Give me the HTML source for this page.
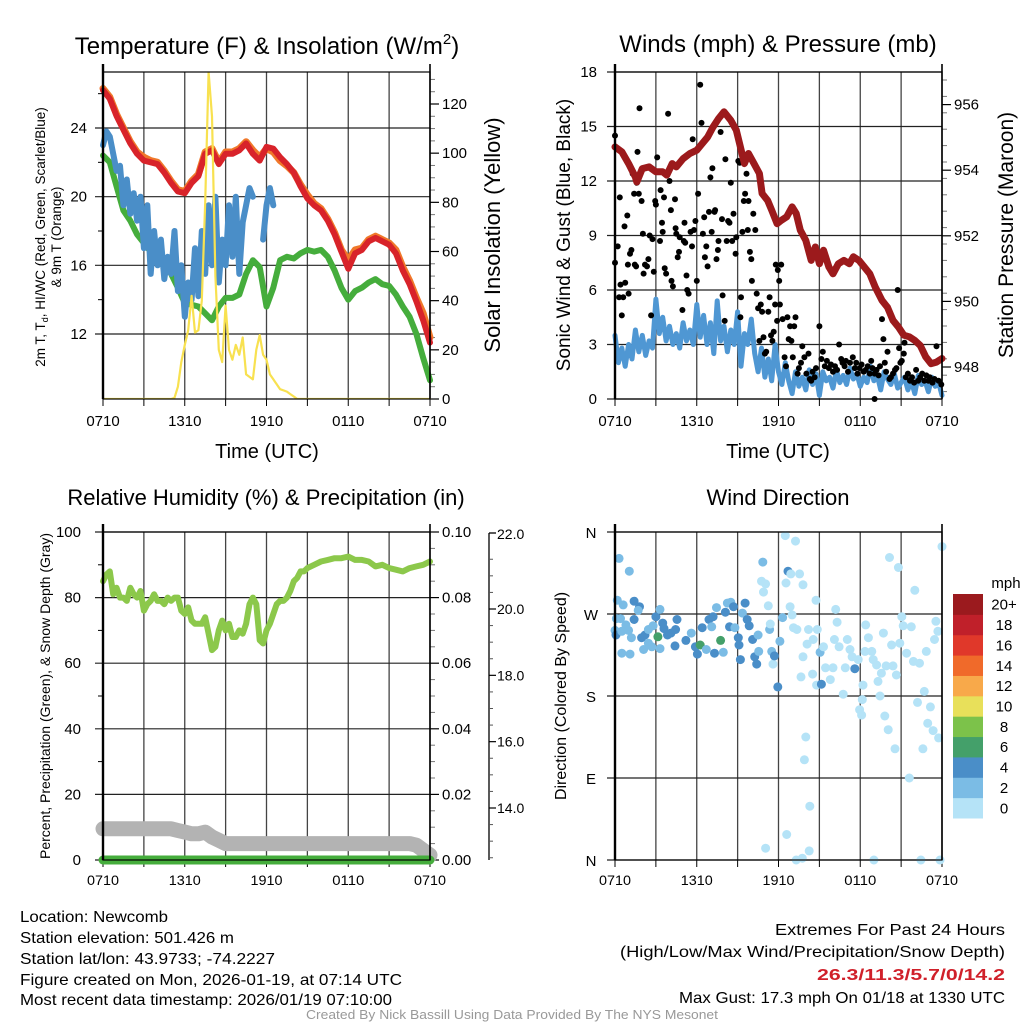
<!DOCTYPE html>
<html><head><meta charset="utf-8"><style>
html,body{margin:0;padding:0;background:#fff;}
svg{display:block;font-family:"Liberation Sans",sans-serif;}
</style></head><body>
<svg id="fig" width="1024" height="1024" viewBox="0 0 1024 1024">
<g id="p1"></g>
<g id="p2"></g>
<g id="p3"></g>
<g id="p4"></g>
<g id="footer">
<text x="20" y="922" font-size="16" textLength="148" lengthAdjust="spacingAndGlyphs">Location: Newcomb</text>
<text x="20" y="943" font-size="16" textLength="214" lengthAdjust="spacingAndGlyphs">Station elevation: 501.426 m</text>
<text x="20" y="964" font-size="16" textLength="255" lengthAdjust="spacingAndGlyphs">Station lat/lon: 43.9733; -74.2227</text>
<text x="20" y="985" font-size="16" textLength="382" lengthAdjust="spacingAndGlyphs">Figure created on Mon, 2026-01-19, at 07:14 UTC</text>
<text x="20" y="1005" font-size="16" textLength="372" lengthAdjust="spacingAndGlyphs">Most recent data timestamp: 2026/01/19 07:10:00</text>
<text x="1005" y="935" font-size="16" text-anchor="end" textLength="230" lengthAdjust="spacingAndGlyphs">Extremes For Past 24 Hours</text>
<text x="1005" y="957" font-size="16" text-anchor="end" textLength="385" lengthAdjust="spacingAndGlyphs">(High/Low/Max Wind/Precipitation/Snow Depth)</text>
<text x="1005" y="980" font-size="16" font-weight="bold" fill="#d0202a" text-anchor="end" textLength="188" lengthAdjust="spacingAndGlyphs">26.3/11.3/5.7/0/14.2</text>
<text x="1005" y="1003" font-size="16" text-anchor="end" textLength="326" lengthAdjust="spacingAndGlyphs">Max Gust: 17.3 mph On 01/18 at 1330 UTC</text>
<text x="512" y="1019" font-size="13" fill="#999" text-anchor="middle" textLength="412" lengthAdjust="spacingAndGlyphs">Created By Nick Bassill Using Data Provided By The NYS Mesonet</text>
</g>
</svg>
<script>
// ---------- DATA ----------
const timeLabels = ["0710","1310","1910","0110","0710"];
const tempTicks = [12,16,20,24];
const solarTicks = [0,20,40,60,80,100,120];
const windTicks = [0,3,6,9,12,15,18];
const pressTicks = [948,950,952,954,956];
const rhTicks = [0,20,40,60,80,100];
const precipTicks = ["0.00","0.02","0.04","0.06","0.08","0.10"];
const snowTicks = [14,16,18,20];
const dirLabels = ["N","E","S","W","N"];
const speedBinLabels = ["0","2","4","6","8","10","12","14","16","18","20+"];
const speedBinColors = ["#b5e3f7","#7bbce5","#4a8ec8","#44a06a","#7cc24a","#e8e05a","#f8a94a","#f06a2a","#e0382a","#c0202a","#9b1a1e"];

const tempRed = [26.2,25.7,24.7,23.9,23.1,22.5,22.1,22.0,21.9,21.4,20.8,20.3,20.2,20.8,21.2,22.5,22.7,21.9,22.5,22.5,22.7,23.1,22.5,22.1,22.9,22.8,22.3,21.9,21.4,20.6,19.9,19.5,19.2,18.6,17.8,16.8,15.8,16.7,16.9,17.4,17.6,17.4,17.2,16.7,15.7,14.9,13.9,12.8,11.5];
const tempOrange = [26.3,25.8,24.8,24.0,23.2,22.6,22.3,22.1,22.0,21.5,20.9,20.4,20.3,20.9,21.3,22.6,22.8,22.0,22.6,22.6,22.8,23.2,22.7,22.3,22.8,22.6,22.1,21.8,21.4,20.7,20.1,19.6,19.3,18.7,17.9,16.9,16.3,16.9,17.0,17.5,17.7,17.5,17.3,16.9,15.9,15.1,14.1,13.2,11.8];
const dewGreen = [22.4,22.0,20.6,19.2,18.6,17.8,17.3,16.8,16.6,16.3,15.5,14.7,13.8,13.7,13.6,13.2,12.8,13.6,14.1,14.1,14.3,15.5,16.3,15.9,13.6,14.7,16.3,16.5,16.4,16.7,16.9,16.8,16.9,16.5,15.7,14.7,14.0,14.5,14.7,15.0,15.2,14.9,14.8,14.3,13.6,13.0,12.0,10.6,9.3];
const chillBlue = [23.0,23.8,23.5,22.5,21.5,21.8,19.5,21.0,19.0,20.2,18.6,20.0,17.0,19.5,15.5,18.0,16.0,17.5,15.2,16.5,15.5,18.0,14.5,16.0,13.0,15.0,14.0,17.0,14.2,18.0,15.5,19.5,16.0,20.0,15.0,17.5,16.0,19.5,16.5,20.0,15.5,18.5,19.5,20.5,20.0,null,null,17.5,19.5,20.5,19.5];
const solarHours = [0,5,5.25,5.5,5.75,6,6.25,6.5,6.75,7,7.25,7.5,7.75,8,8.25,8.5,8.75,9,9.25,9.5,9.75,10,10.25,10.5,10.75,11,11.25,11.5,11.75,12,12.25,12.5,12.75,13,13.25,13.5,13.75,14,14.25,24];
const solarVals = [0,0,0.5,5,15,22,28,42,27,28,40,80,133,115,50,20,15,38,20,16,22,18,25,10,9,8,20,26,18,16,10,8,6,4,3.5,3,2,1,0,0];

const windSpeed = [3.5,2.0,2.8,1.8,3.0,2.2,3.8,2.6,3.5,2.4,3.2,2.8,5.5,3.6,4.5,3.2,4.0,3.0,3.6,2.8,4.2,3.2,3.8,3.0,5.2,3.4,4.6,3.0,4.2,2.5,5.4,3.2,4.0,2.6,3.8,3.0,4.8,1.8,3.6,3.0,4.4,2.5,1.5,2.8,1.2,2.2,1.0,3.0,1.5,0.8,2.0,1.0,0.3,1.5,0.7,1.2,0.5,1.6,0.8,1.4,0.2,1.5,1.0,1.2,0.6,1.6,0.9,1.3,0.8,1.7,1.1,1.4,0.7,1.2,0.9,1.8,1.0,1.3,0.5,1.5,1.1,0.8,1.4,0.6,0.9,1.2,0.5,1.0,0.3,1.3,0.8,1.0,0.4,1.2,0.7,0.9,0.2];
const gustHours = [0,0,0.2,0.3,0.35,0.4,0.5,0.6,0.7,0.75,0.9,0.95,1.0,1.1,1.2,1.3,1.4,1.45,1.55,1.6,1.65,1.75,1.8,1.95,2.05,2.1,2.2,2.35,2.45,2.55,2.65,2.75,2.85,2.95,3.0,3.1,3.3,3.35,3.45,3.5,3.6,3.65,3.75,3.9,4.0,4.1,4.15,4.25,4.4,4.45,4.5,4.6,4.7,4.75,4.95,5.05,5.1,5.15,5.25,5.3,5.4,5.55,5.65,5.7,5.8,5.9,6.0,6.1,6.25,6.35,6.45,6.55,6.6,6.7,6.8,6.9,7.0,7.1,7.15,7.3,7.35,7.45,7.55,7.6,7.75,7.85,7.9,8.05,8.1,8.2,8.3,8.4,8.5,8.6,8.7,8.85,8.9,9.05,9.15,9.2,9.25,9.35,9.45,9.55,9.65,9.75,9.8,9.9,10.0,10.05,10.15,10.3,10.4,10.5,10.6,10.7,10.8,10.9,11.0,11.1,11.25,11.35,11.45,11.55,11.65,11.75,11.8,11.9,11.95,12.05,12.1,12.2,12.3,12.45,12.55,12.65,12.75,12.85,12.95,13.05,13.15,13.25,13.4,13.5,13.65,13.75,13.9,14.05,14.2,14.3,14.4,14.5,14.65,14.75,15.0,15.15,15.25,15.4,15.55,15.7,15.85,16.0,16.15,16.3,16.45,16.6,16.7,16.85,16.95,17.1,17.25,17.45,17.6,17.7,17.8,17.95,18.1,18.25,18.4,18.55,18.7,18.8,18.9,19.05,19.2,19.35,19.45,19.6,19.7,19.8,19.9,20.0,20.15,20.25,20.4,20.55,20.65,20.75,20.85,20.95,21.05,21.2,21.25,21.35,21.5,21.65,21.8,21.95,22.1,22.25,22.4,22.55,22.7,22.85,23.0,23.1,23.3,23.45,23.6,23.75,23.95,19.05];
const gustVals = [7.5,14.5,8.4,5.6,11.1,6.3,4.6,5.6,9.5,6.4,10.1,7.4,5.8,8.0,8.2,12.4,11.3,7.4,7.3,11.9,13.6,11.3,16.0,10.9,9.1,6.9,7.4,7.3,7.7,9.0,4.6,8.8,7.0,10.9,10.7,13.3,8.7,11.5,9.7,9.2,11.1,7.2,6.9,15.7,12.0,10.4,6.5,6.2,11.0,9.4,9.1,7.8,8.1,8.9,4.9,8.7,9.7,8.6,6.8,6.0,5.8,9.2,8.4,14.3,9.3,9.8,6.5,11.3,17.3,15.2,9.1,10.0,7.8,8.4,7.3,10.3,12.2,9.2,12.7,10.3,10.4,7.7,8.2,8.7,14.7,9.9,5.7,4.3,13.2,8.7,9.8,9.7,11.9,8.7,10.2,8.0,8.9,13.1,13.0,4.5,5.6,9.2,10.9,11.3,12.4,9.3,10.9,8.1,7.7,6.5,10.2,9.3,5.8,5.0,3.2,5.2,4.8,3.4,2.5,2.6,4.8,5.6,3.5,3.2,3.7,5.2,7.4,4.3,7.1,6.5,5.2,7.4,4.4,2.3,1.8,4.5,3.3,4.0,3.2,2.3,4.0,4.5,1.4,1.7,2.0,2.9,2.3,1.4,2.5,1.1,1.0,1.5,1.2,1.7,4.0,2.2,2.6,1.8,2.1,1.7,1.9,1.5,1.8,1.6,3.0,2.2,2.0,1.8,2.1,1.5,2.0,2.3,1.7,2.0,1.4,1.7,1.9,1.5,1.6,1.8,1.4,2.1,1.7,1.4,1.6,1.3,1.8,4.4,3.3,2.0,1.5,2.6,1.1,1.2,1.4,1.6,1.7,6.0,2.8,2.0,2.1,2.5,3.1,1.2,1.4,1.0,1.2,0.9,1.6,1.0,1.2,1.4,1.0,1.3,1.0,1.2,0.9,1.1,2.9,1.0,0.8,0.0];
const pressHours = [0,0.5,1,1.5,1.6,2,2.5,3,3.5,3.8,4.2,4.5,5,5.5,6,6.3,6.8,7.2,7.6,8,8.5,8.9,9.2,9.5,9.8,10.2,10.6,10.8,11.2,11.5,11.9,12.2,12.6,13.0,13.3,13.6,14.0,14.4,14.7,15.0,15.3,15.7,16.0,16.4,16.8,17.2,17.5,17.9,18.3,18.7,19.1,19.6,20.0,20.4,20.8,21.2,21.6,22.0,22.4,22.8,23.2,23.6,24];
const pressVals = [954.71,954.56,954.20,953.79,953.64,954.05,954.10,953.95,953.95,953.85,954.20,954.10,954.35,954.51,954.61,954.76,955.01,955.32,955.57,955.78,955.52,955.22,954.71,954.20,954.51,954.20,953.90,953.29,953.08,952.78,952.37,952.47,952.58,952.88,952.68,952.17,951.86,951.25,951.66,951.15,951.56,951.05,950.84,951.15,951.25,951.15,951.36,951.25,951.05,950.84,950.44,950.03,949.82,949.42,949.22,948.97,948.92,948.81,948.66,948.31,948.10,948.15,948.26];

const rhHours = [0,0.25,0.5,0.75,1,1.25,1.5,1.75,2,2.25,2.5,2.75,3,3.25,3.5,3.75,4,4.25,4.5,4.75,5,5.25,5.5,5.75,6,6.25,6.5,6.75,7,7.25,7.5,7.75,8,8.25,8.5,8.75,9,9.25,9.5,9.75,10,10.25,10.5,10.75,11,11.25,11.5,11.75,12,12.25,12.5,12.75,13,13.25,13.5,13.75,14,14.25,14.5,14.75,15,15.5,16,16.5,17,17.5,18,18.5,19,19.5,20,20.5,21,21.5,22,22.5,23,23.5,24];
const rhVals = [85,87,88,81,83,80,80,79,83,81,80,82,76,78,79,81,79,79,78,80,79,80,80,76,75,77,73,72,72,72,74,69,64,65,70,73,70,72,68,68,70,69,72,78,80,78,67,66,70,72,75,78,79,79,80,82,85,86,88,88,89,90,91,91.5,92,92,92.5,91.5,91.5,91,89.5,90,89,88.5,88,89,89.5,90,91];
const snowHours = [0,4.5,5,5.5,6,6.5,7,7.5,8,8.5,9,22.5,23,23.5,24];
const snowVals = [9.5,9.5,9.5,9,8.5,8,8,8.5,7,6,5,5,4.5,3,1.5];
const precipHours = [0,24];
const precipVals = [0,0];

const dirHours = [0.3,1.05,0.17,0.6,1.4,1.8,1.7,0.1,0.4,0.8,1.4,0,0.07,0.5,1.0,1.2,1.95,2.2,2.45,2.8,3.0,3.3,3.15,3.5,3.6,3.85,4.1,4.45,4.55,4.4,3.3,2.7,2.1,1.1,0.5,2.45,5.2,5.6,5.9,6.05,6.25,6.4,6.7,6.9,7.1,7.2,7.3,7.45,7.75,7.95,8.1,8.25,8.5,8.7,8.4,8.8,9.05,9.1,9.2,9.35,9.55,9.7,9.85,10.1,10.25,10.4,10.5,10.55,10.85,10.75,11.05,10.9,11.35,11.25,11.4,11.6,11.5,11.7,11.95,12.1,12.3,12.5,12.7,12.9,13.25,13.55,13.8,12.55,12.85,13.0,13.1,13.35,13.8,14.1,14.2,14.55,14.75,14.85,15.05,15.3,14.5,13.65,14.8,15.15,15.45,15.8,16.0,16.2,16.3,16.1,16.45,16.75,16.9,17.05,17.25,17.4,17.6,17.85,17.95,18.1,18.2,18.15,18.35,18.4,18.6,18.85,18.95,19.2,19.3,19.45,19.55,19.7,19.8,19.9,20.05,20.15,20.3,20.4,20.55,20.65,20.8,20.9,21.05,21.15,21.4,21.6,21.75,21.9,22.0,22.2,22.35,22.6,22.7,22.85,22.95,23.15,23.35,23.45,23.55,23.7,23.75,24,12.6,11.05,13.9,14.0,14.3,14.25,13.3,13.75,19.0,22.45,23.85];
const dirVals = [331,317,285,280,284,278,274,265,265,258,264,252,247,251,252,244,244,247,253,257,267,275,245,260,254,247,249,253,264,235,232,234,231,226,227,238,241,249,234,226,236,255,231,264,256,267,227,277,241,228,272,282,283,278,256,255,244,236,220,271,282,264,257,242,223,215,247,229,327,306,303,294,253,279,259,215,229,224,190,240,266,356,317,314,350,314,302,304,278,269,255,253,223,237,253,242,285,253,228,234,204,201,192,193,211,198,211,275,261,242,234,182,211,242,231,223,210,220,165,159,192,176,229,258,244,229,220,214,196,180,205,249,158,213,143,332,236,213,122,203,321,238,267,257,227,90,256,218,296,173,216,122,185,229,150,168,142,242,262,251,134,344,28,13,110,135,59,10,0,2,0,0,0];
const dirSpeeds = [3,3,3,2.5,4.5,4.5,3,3,3,3,4.5,3,4.5,3,3,3,4.5,4.5,3,3,4.5,3,7,4.5,4.5,4.5,4.5,4.5,4.5,4.5,3,3,3,3,3,3,4.5,3,4.5,4.5,7,4.5,3,4.5,3,4.5,4.5,3,7,3,4.5,3,3,4.5,4.5,3,4.5,4.5,4.5,3,4.5,4.5,4.5,4.5,4.5,4.5,3,3,3,1,1,1,3,1,1,1,3,4.5,4.5,3,3,1,4.5,1,1,1,1,1,1,1,1,1,1,1,1,1,1,1,3,1,1,1,1,4.5,1,1,1,1,1,1,1,1,1,1,1,1,4.5,1,1,1,1,1,1,1,1,1,1,1,1,1,1,1,1,1,1,1,1,1,1,1,1,1,1,1,1,1,1,1,1,1,1,1,1,1,1,1,1,1,1,1,1,1,1,1,1,1,1,1,1,1,1,1,1,1,1];

// ---------- DRAWING ----------
const NS = "http://www.w3.org/2000/svg";
function mk(parent, tag, attrs, txt){
  const e = document.createElementNS(NS, tag);
  for (const k in attrs) e.setAttribute(k, attrs[k]);
  if (txt !== undefined) e.textContent = txt;
  parent.appendChild(e);
  return e;
}
function lin(d0,d1,r0,r1){ return v => r0 + (v-d0)*(r1-r0)/(d1-d0); }
function pathFrom(hs, vs, sx, sy){
  let d = "", pen = false;
  for (let i=0;i<vs.length;i++){
    if (vs[i]===null){ pen=false; continue; }
    d += (pen?"L":"M") + sx(hs[i]).toFixed(1) + "," + sy(vs[i]).toFixed(1);
    pen = true;
  }
  return d;
}
function stepHours(n){ const a=[]; for(let i=0;i<n;i++) a.push(i*24/(n-1)); return a; }
function quarterHours(n){ const a=[]; for(let i=0;i<n;i++) a.push(i*0.25); return a; }

function frame(g, L, R, T, B, condensed){
  const sx = lin(0,24,L,R);
  for (let h=3; h<24; h+=3){
    const gl = mk(g,"line",{x1:sx(h),x2:sx(h),y1:T,y2:B,stroke:"#444","stroke-width":1.3});
    
    
  }
  for (let h=0; h<=24; h+=3){
    const t = mk(g,"line",{x1:sx(h),x2:sx(h),y1:B,y2:B+7,stroke:"#000","stroke-width":1});
    
    
  }
  timeLabels.forEach((lab,i)=>{
    const a = {x:sx(i*6), y:B+(condensed?25:27), "font-size":condensed?14:15, "text-anchor":"middle"};
    if (condensed){ a.textLength=32; a.lengthAdjust="spacingAndGlyphs"; }
    const t = mk(g,"text",a,lab);
    
    
  });
  return sx;
}
function border(g,L,R,T,B){
  const r = mk(g,"rect",{x:L,y:T,width:R-L,height:B-T,fill:"none",stroke:"#000","stroke-width":1.2});
  
  
  const l = mk(g,"line",{x1:L,x2:L,y1:T-8,y2:B,stroke:"#000","stroke-width":2.4});
  
  
  const r2 = mk(g,"line",{x1:R,x2:R,y1:T-8,y2:B,stroke:"#000","stroke-width":1.6});
  
  
}
function hgrid(g,L,R,y,extendLeft){
  const e = mk(g,"line",{x1:L-(extendLeft||0),x2:R,y1:y,y2:y,stroke:"#222","stroke-width":1.2});
  
  
}
function txt(g,x,y,size,anchor,s,name,extra){
  const a = {x:x,y:y,"font-size":size,"text-anchor":anchor};
  if (extra) for (const k in extra) a[k]=extra[k];
  const t = mk(g,"text",a,s);
  
  
  return t;
}
function rotText(g,x,y,size,s,name){
  const t = mk(g,"text",{x:0,y:0,"font-size":size,"text-anchor":"middle",transform:`translate(${x},${y}) rotate(-90)`},s);
  
  
  return t;
}
function series(g, hs, vs, sx, sy, color, w, name){
  const p = mk(g,"path",{d:pathFrom(hs,vs,sx,sy),fill:"none",stroke:color,"stroke-width":w,"stroke-linejoin":"round","stroke-linecap":"round"});
  
  
  return p;
}

// ===== Panel 1 =====
(function(){
  const g = document.getElementById("p1");
  const L=103,R=430,T=72,B=399;
  const sy = lin(12,24,334,128);
  const sy2 = lin(0,120,399,104);
  const sx = frame(g,L,R,T,B,false);
  tempTicks.forEach(v=>{ hgrid(g,L,R,sy(v),8); txt(g,L-16,sy(v)+5,15,"end",String(v),"temp-tick-label"); });
  [14,18,22,26].forEach(v=>{ const m=mk(g,"line",{x1:L-5,x2:L,y1:sy(v),y2:sy(v),stroke:"#000"});   });
  solarTicks.forEach(v=>{
    const m=mk(g,"line",{x1:R,x2:R+9,y1:sy2(v),y2:sy2(v),stroke:"#000","stroke-width":1.2});
     
    txt(g,R+12,sy2(v)+5,15,"start",String(v),"solar-tick-label");
  });
  for (let v=5; v<135; v+=5){ if (v%20===0) continue; const m=mk(g,"line",{x1:R,x2:R+5,y1:sy2(v),y2:sy2(v),stroke:"#777"});   }
  const clip = mk(g,"clipPath",{id:"c1"}); mk(clip,"rect",{x:L-4,y:T,width:R-L+8,height:B-T});
  const sg = mk(g,"g",{"clip-path":"url(#c1)"});
   
  series(sg, stepHours(tempOrange.length), tempOrange, sx, sy, "#f0782a", 7, "temp-9m-orange-line");
  series(sg, stepHours(dewGreen.length), dewGreen, sx, sy, "#45ad3c", 6, "dewpoint-green-line");
  series(sg, quarterHours(chillBlue.length), chillBlue, sx, sy, "#4a8ec8", 6, "windchill-blue-line");
  series(sg, stepHours(tempRed.length), tempRed, sx, sy, "#d8232a", 6, "temp-2m-red-line");
  series(sg, solarHours, solarVals, sx, sy2, "#f8e150", 2.2, "solar-yellow-line");
  border(g,L,R,T,B);
  const ti = txt(g,267,54,24,"middle","Temperature (F) & Insolation (W/m","panel1-title");
  const sup = mk(ti,"tspan",{"font-size":15,dy:-10},"2");  
  const cl = mk(ti,"tspan",{dy:10},")");  
  txt(g,267,458,20,"middle","Time (UTC)","x-axis-title");
  const yl = mk(g,"text",{x:0,y:0,"font-size":13.5,"text-anchor":"middle",transform:"translate(45,237) rotate(-90)"});
   
  const t1 = mk(yl,"tspan",{x:0,dy:0},"2m T, T");  
  const t1b = mk(yl,"tspan",{"font-size":9,dy:3},"d");  
  const t1c = mk(yl,"tspan",{dy:-3},", HI/WC (Red, Green, Scarlet/Blue)");  
  const t2 = mk(yl,"tspan",{x:0,dy:16},"& 9m T (Orange)");  
  rotText(g,500,235,22,"Solar Insolation (Yellow)","solar-y-axis-title");
})();

// ===== Panel 2 =====
(function(){
  const g = document.getElementById("p2");
  const L=615,R=942,T=72,B=399;
  const sy = lin(0,18,399,72);
  const sp = lin(948,956,367,104.6);
  const sx = frame(g,L,R,T,B,false);
  windTicks.forEach(v=>{ hgrid(g,L,R,sy(v),8); txt(g,L-18,sy(v)+5,15,"end",String(v),"wind-tick-label"); });
  pressTicks.forEach(v=>{
    const m=mk(g,"line",{x1:R,x2:R+9,y1:sp(v),y2:sp(v),stroke:"#000","stroke-width":1.2});
     
    txt(g,R+12,sp(v)+5,15,"start",String(v),"pressure-tick-label");
  });
  for (let v=947.25; v<957; v+=0.5){ const m=mk(g,"line",{x1:R,x2:R+5,y1:sp(v),y2:sp(v),stroke:"#777"});   }
  const clip = mk(g,"clipPath",{id:"c2"}); mk(clip,"rect",{x:L-6,y:T,width:R-L+12,height:B-T+4});
  const sg = mk(g,"g",{"clip-path":"url(#c2)"});
   
  series(sg, stepHours(windSpeed.length), windSpeed, sx, sy, "#4f97d3", 5, "sustained-wind-blue-line");
  gustHours.forEach((h,i)=>{
    const c = mk(sg,"circle",{cx:sx(h).toFixed(1),cy:sy(gustVals[i]).toFixed(1),r:3,fill:"#000"});
    
    
  });
  series(sg, pressHours, pressVals, sx, sp, "#9c1a1c", 7, "pressure-maroon-line");
  border(g,L,R,T,B);
  txt(g,778,52,24,"middle","Winds (mph) & Pressure (mb)","panel2-title");
  txt(g,778,458,20,"middle","Time (UTC)","x-axis-title");
  rotText(g,570,235,19,"Sonic Wind & Gust (Blue, Black)","wind-y-axis-title");
  rotText(g,1013,235,21,"Station Pressure (Maroon)","pressure-y-axis-title");
})();

// ===== Panel 3 =====
(function(){
  const g = document.getElementById("p3");
  const L=103,R=430,T=532,B=860;
  const sy = lin(0,100,860,532);
  const sx = frame(g,L,R,T,B,true);
  rhTicks.forEach(v=>{ hgrid(g,L,R,sy(v),8); txt(g,L-22,sy(v)+5,15,"end",String(v),"rh-tick-label"); });
  [10,30,50,70,90].forEach(v=>{ const m=mk(g,"line",{x1:L-5,x2:L,y1:sy(v),y2:sy(v),stroke:"#000"});   });
  precipTicks.forEach((lab,i)=>{
    const y = sy(i*20);
    const m=mk(g,"line",{x1:R,x2:R+9,y1:y,y2:y,stroke:"#000","stroke-width":1.2});
     
    txt(g,R+12,y+5,15,"start",lab,"precip-tick-label");
  });
  for (let v=5; v<100; v+=5){ if (v%20===0) continue; const m=mk(g,"line",{x1:R,x2:R+5,y1:sy(v),y2:sy(v),stroke:"#777"});   }
  const ssy = lin(14,20,808,609);
  const ax = mk(g,"line",{x1:489,x2:489,y1:533,y2:860,stroke:"#000","stroke-width":1.3});
   
  const tt = mk(g,"line",{x1:489,x2:496,y1:533,y2:533,stroke:"#000","stroke-width":1.3});
   
  txt(g,497,539,14,"start","22.0","snow-tick-label");
  snowTicks.forEach(v=>{
    const m=mk(g,"line",{x1:489,x2:496,y1:ssy(v),y2:ssy(v),stroke:"#000","stroke-width":1.2});
     
    txt(g,497,ssy(v)+5,14,"start",v.toFixed(1),"snow-tick-label");
  });
  for (let v=12.5; v<22; v+=0.5){ if (Number.isInteger(v/2)) continue; const y=ssy(v); if (y<536||y>858) continue; const m=mk(g,"line",{x1:489,x2:493,y1:y,y2:y,stroke:"#555"});   }
  const clip = mk(g,"clipPath",{id:"c3"}); mk(clip,"rect",{x:L-12,y:T,width:R-L+24,height:B-T+12});
  const sg = mk(g,"g",{"clip-path":"url(#c3)"});
   
  series(sg, snowHours, snowVals, sx, sy, "#b3b3b3", 15, "snow-depth-gray-line");
  series(sg, precipHours, precipVals, sx, sy, "#45ad3c", 9, "precip-green-line");
  series(sg, rhHours, rhVals, sx, sy, "#8cc84b", 6, "rh-green-line");
  border(g,L,R,T,B);
  txt(g,266,505,22,"middle","Relative Humidity (%) & Precipitation (in)","panel3-title");
  rotText(g,50,696,14,"Percent, Precipitation (Green), & Snow Depth (Gray)","rh-y-axis-title");
})();

// ===== Panel 4 =====
(function(){
  const g = document.getElementById("p4");
  const L=615,R=942,T=532,B=860;
  const sy = lin(0,360,860,532);
  const sx = frame(g,L,R,T,B,true);
  dirLabels.forEach((lab,i)=>{ hgrid(g,L,R,sy(i*90),8); txt(g,L-24,sy(i*90)+6,15,"middle",lab,"direction-tick-label"); });
  const clip = mk(g,"clipPath",{id:"c4"}); mk(clip,"rect",{x:L-6,y:T-6,width:R-L+12,height:B-T+12});
  const sg = mk(g,"g",{"clip-path":"url(#c4)"});
   
  dirHours.forEach((h,i)=>{
    const bin = Math.min(10, Math.floor(dirSpeeds[i]/2));
    const c = mk(sg,"circle",{cx:sx(h).toFixed(1),cy:sy(dirVals[i]).toFixed(1),r:4.5,fill:speedBinColors[bin]});
    
    
  });
  border(g,L,R,T,B);
  txt(g,778,505,22,"middle","Wind Direction","panel4-title");
  rotText(g,566,696,16,"Direction (Colored By Speed)","direction-y-axis-title");
  const cb = mk(g,"g",{});  
  const h = (818-594)/11;
  speedBinColors.forEach((col,i)=>{
    const y = 818 - (i+1)*h;
    const r = mk(cb,"rect",{x:953,y:y,width:30,height:h+0.5,fill:col});
     
    txt(cb,1004,y+h/2+5.5,15,"middle",speedBinLabels[i],"colorbar-label");
  });
  txt(cb,1006,588,15,"middle","mph","colorbar-title");
})();
</script>
</body></html>
